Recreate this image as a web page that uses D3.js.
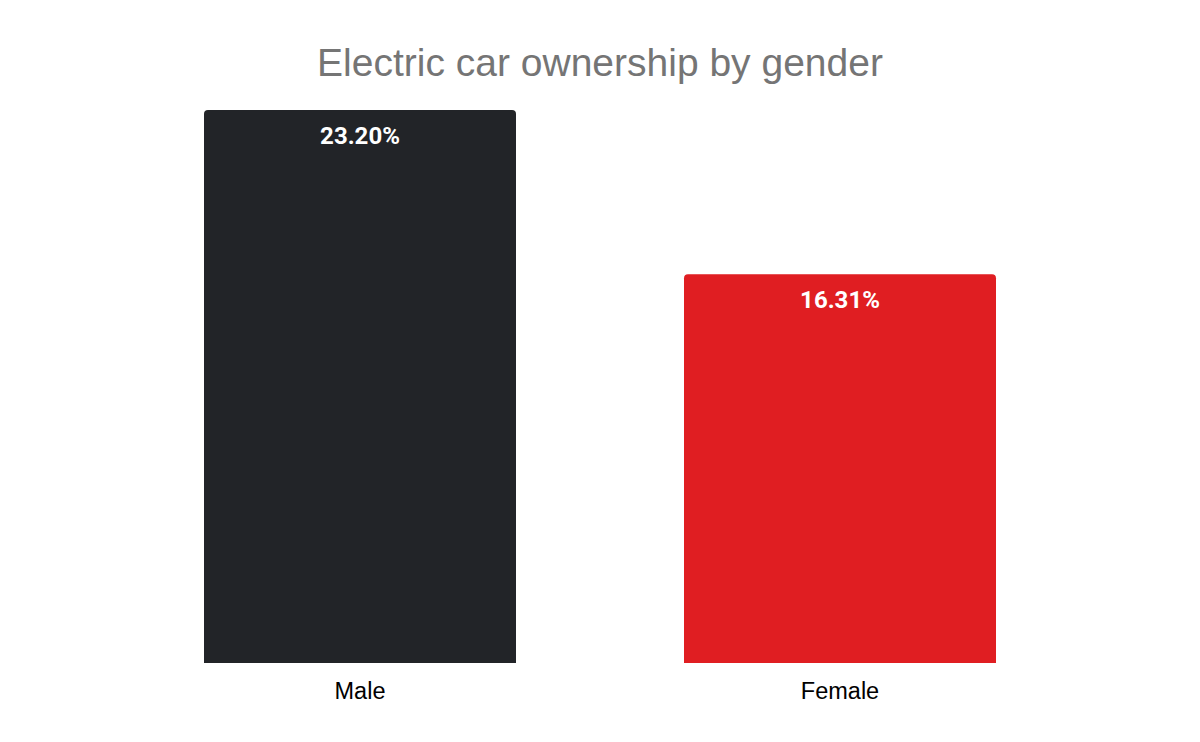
<!DOCTYPE html>
<meta charset="utf-8">
<head>
  <script src="https://d3js.org/d3.v7.min.js"></script>
</head>
<style>
body {
  margin: 0;
  background: #fff;
}
.title {
  font-family: "Liberation Sans", Arial, sans-serif;
  font-size: 39px;
  fill: #757575;
}
.cat-label {
  font-family: "Liberation Sans", Arial, sans-serif;
  font-size: 23.5px;
  fill: #000;
}
.value-label {
  font-family: Roboto, "Liberation Sans", sans-serif;
  font-weight: bold;
  font-size: 24px;
  fill: #fff;
}
</style>
<body>
<svg width="1200" height="742" id="container"></svg>
<script>

// chart data
var categories = ["Male", "Female"];
var values = [23.20, 16.31];
var barColors = ["#222428", "#e01e22"];
var titleText = "Electric car ownership by gender";

var svg = d3.select('#container'),
    w = +svg.attr("width"),
    h = +svg.attr("height");

var plotTop = 110,
    plotBottom = 663,
    cornerRadius = 4;

var xScale = d3.scaleBand()
    .domain(categories)
    .range([36, 1164])
    .paddingInner(0.35)
    .paddingOuter(0.35);

var yScale = d3.scaleLinear()
    .domain([0, d3.max(values)])
    .range([plotBottom, plotTop]);

svg.append('text')
   .attr('class', 'title')
   .attr('x', w / 2)
   .attr('y', 76)
   .attr('text-anchor', 'middle')
   .text(titleText);

// bar with rounded top corners only
function barPath(x, y, bw, bh, r) {
  return 'M' + x + ',' + (y + bh) +
         'V' + (y + r) +
         'Q' + x + ',' + y + ' ' + (x + r) + ',' + y +
         'H' + (x + bw - r) +
         'Q' + (x + bw) + ',' + y + ' ' + (x + bw) + ',' + (y + r) +
         'V' + (y + bh) + 'Z';
}

var bars = svg.selectAll('.bar')
   .data(categories)
   .enter()
   .append('g')
   .attr('class', 'bar');

bars.append('path')
    .attr('fill', function(d, i) { return barColors[i]; })
    .attr('d', function(d, i) {
      var x = xScale(d), y = yScale(values[i]);
      return barPath(x, y, xScale.bandwidth(), yScale(0) - y, cornerRadius);
    });

bars.append('text')
    .attr('class', 'value-label')
    .attr('x', function(d) { return xScale(d) + xScale.bandwidth() / 2; })
    .attr('y', function(d, i) { return yScale(values[i]) + 34; })
    .attr('text-anchor', 'middle')
    .text(function(d, i) { return values[i].toFixed(2) + '%'; });

var xAxis = d3.axisBottom(xScale).tickSize(0).tickPadding(0);

svg.append('g')
   .attr('class', 'axis axis--x')
   .attr('transform', 'translate(0,' + plotBottom + ')')
   .call(xAxis)
   .call(function(g) { g.select('.domain').remove(); })
   .selectAll('text')
   .attr('class', 'cat-label')
   .attr('dy', null)
   .attr('y', 36)
   .attr('font-family', null)
   .attr('font-size', null);

</script>
</body>
